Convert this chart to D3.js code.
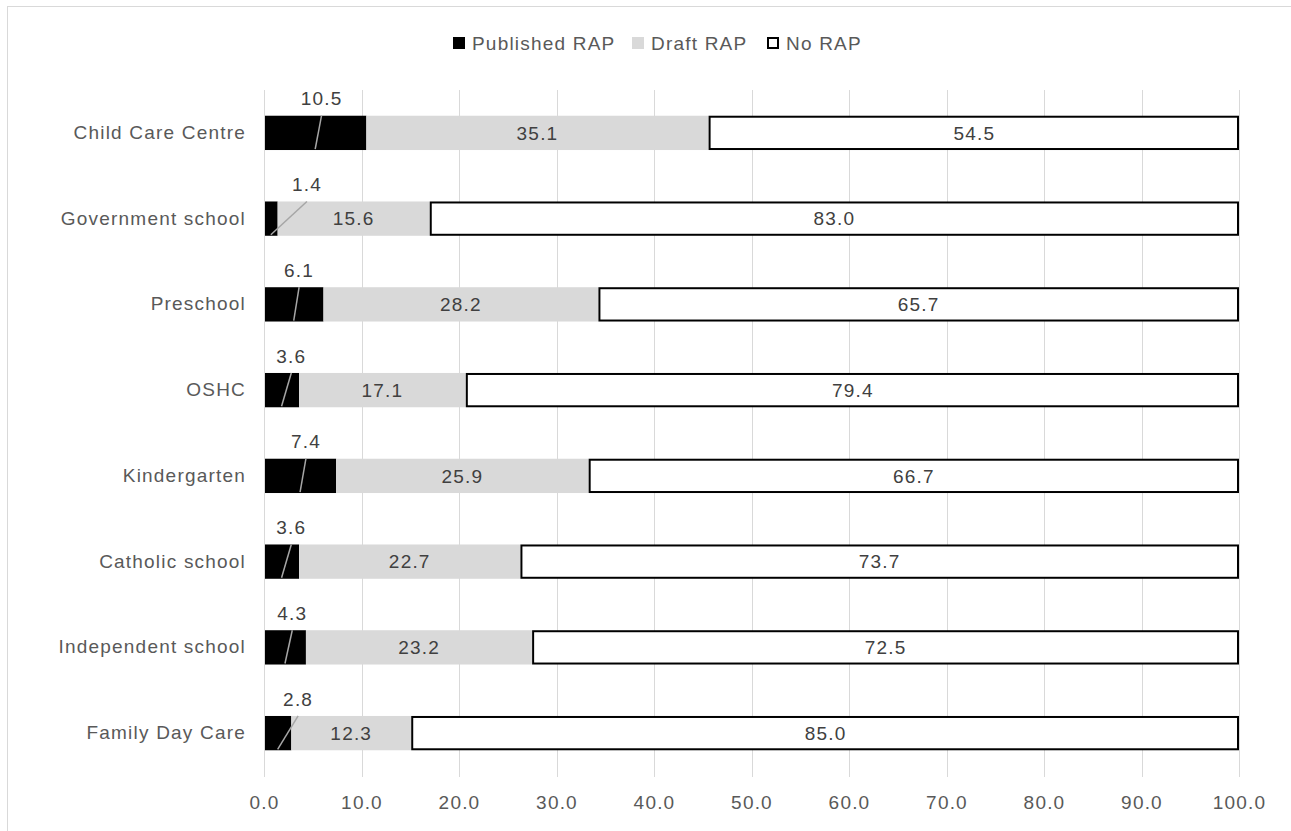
<!DOCTYPE html>
<html><head><meta charset="utf-8">
<script src="https://cdn.jsdelivr.net/npm/d3@7"></script>
<style>body{margin:0;background:#fff}svg{display:block;font-family:"Liberation Sans","Open Sans",sans-serif}</style>
</head><body><svg id="c" width="1291" height="831"></svg>
<script>
const categories = ["Child Care Centre","Government school","Preschool","OSHC","Kindergarten","Catholic school","Independent school","Family Day Care"];
const published = [10.5,1.4,6.1,3.6,7.4,3.6,4.3,2.8];
const draft = [35.1,15.6,28.2,17.1,25.9,22.7,23.2,12.3];
const noRap = [54.5,83.0,65.7,79.4,66.7,73.7,72.5,85.0];
const publishedLabelAt = [5.9,4.4,3.6,2.8,4.3,2.8,2.9,3.5];
const seriesNames = ["Published RAP","Draft RAP","No RAP"];
const xTicks = [0,10,20,30,40,50,60,70,80,90,100];

const FS = "19px", LS = "1.2px";
const svg = d3.select("#c");
const m = {l:264,r:1239,t:90,b:776};
const x = d3.scaleLinear().domain([0,100]).range([m.l,m.r]);
const y = d3.scaleBand().domain(categories).range([m.t,m.b]).paddingInner(0.6).paddingOuter(0.3);

svg.append("rect").attr("x",7.5).attr("y",6.5).attr("width",1300).attr("height",840)
  .attr("fill","none").attr("stroke","#d9d9d9").attr("stroke-width",1);

// grid
svg.append("g").selectAll("line").data(xTicks).join("line")
  .attr("x1",d=>Math.round(x(d))+0.5).attr("x2",d=>Math.round(x(d))+0.5)
  .attr("y1",m.t).attr("y2",m.b+1).attr("stroke","#d9d9d9").attr("stroke-width",1);

// x axis labels
const xa = svg.append("g").attr("transform",`translate(0,${m.b+12})`)
  .call(d3.axisBottom(x).tickValues(xTicks).tickFormat(d3.format(".1f")).tickSize(0).tickPadding(8));
xa.select(".domain").remove();
xa.selectAll("text").attr("fill","#595959").style("font-size",FS).style("letter-spacing",LS);

// y axis labels
const ya = svg.append("g").attr("transform",`translate(${m.l-18},0)`)
  .call(d3.axisLeft(y).tickSize(0).tickPadding(0));
ya.select(".domain").remove();
ya.selectAll("text").attr("fill","#595959").style("font-size",FS).style("letter-spacing",LS);

const rows = categories.map((c,i)=>({c,i,p:published[i],d:draft[i],n:noRap[i]}));
const g = svg.append("g");
// published
g.selectAll(".pb").data(rows).join("rect").attr("class","pb")
  .attr("x",d=>x(0)+1).attr("y",d=>y(d.c)).attr("width",d=>x(d.p)-x(0)-1).attr("height",y.bandwidth())
  .attr("fill","#000");
// draft
g.selectAll(".db").data(rows).join("rect").attr("class","db")
  .attr("x",d=>x(d.p)).attr("y",d=>y(d.c)).attr("width",d=>x(d.p+d.d)-x(d.p)).attr("height",y.bandwidth())
  .attr("fill","#d9d9d9");
// no rap
g.selectAll(".nb").data(rows).join("rect").attr("class","nb")
  .attr("x",d=>x(d.p+d.d)+1).attr("y",d=>y(d.c)+1).attr("width",d=>x(100)-x(d.p+d.d)-2).attr("height",y.bandwidth()-2)
  .attr("fill","#fff").attr("stroke","#000").attr("stroke-width",2);

// labels inside
g.selectAll(".dl").data(rows).join("text")
  .attr("x",d=>x(d.p+d.d/2)).attr("y",d=>y(d.c)+y.bandwidth()/2).attr("dy","0.35em")
  .attr("text-anchor","middle").attr("fill","#404040").style("font-size",FS).style("letter-spacing",LS).text(d=>d.d.toFixed(1));
g.selectAll(".nl").data(rows).join("text")
  .attr("x",d=>x(d.p+d.d+d.n/2)).attr("y",d=>y(d.c)+y.bandwidth()/2).attr("dy","0.35em")
  .attr("text-anchor","middle").attr("fill","#404040").style("font-size",FS).style("letter-spacing",LS).text(d=>d.n.toFixed(1));

// published labels with leader lines
g.selectAll(".ll").data(rows).join("line")
  .attr("x1",d=>x(publishedLabelAt[d.i])).attr("y1",d=>y(d.c))
  .attr("x2",d=>x(d.p/2)).attr("y2",d=>y(d.c)+y.bandwidth()-1)
  .attr("stroke","#a6a6a6").attr("stroke-width",1.5);
g.selectAll(".pl").data(rows).join("text")
  .attr("x",d=>x(publishedLabelAt[d.i])).attr("y",d=>y(d.c)-17).attr("dy","0.35em")
  .attr("text-anchor","middle").attr("fill","#404040").style("font-size",FS).style("letter-spacing",LS).text(d=>d.p.toFixed(1));

// legend
const legend = svg.append("g");
const lx = [453,632,767];
const fills = ["#000","#d9d9d9","#fff"];
seriesNames.forEach((s,i)=>{
  legend.append("rect").attr("x",lx[i]+(i==2?1:0)).attr("y",37+(i==2?1:0)).attr("width",i==2?10:12).attr("height",i==2?10:12)
    .attr("fill",fills[i]).attr("stroke",i==2?"#000":"none").attr("stroke-width",2);
  legend.append("text").attr("x",lx[i]+19).attr("y",43).attr("dy","0.35em")
    .attr("fill","#595959").style("font-size",FS).style("letter-spacing",LS).text(s);
});
</script></body></html>
